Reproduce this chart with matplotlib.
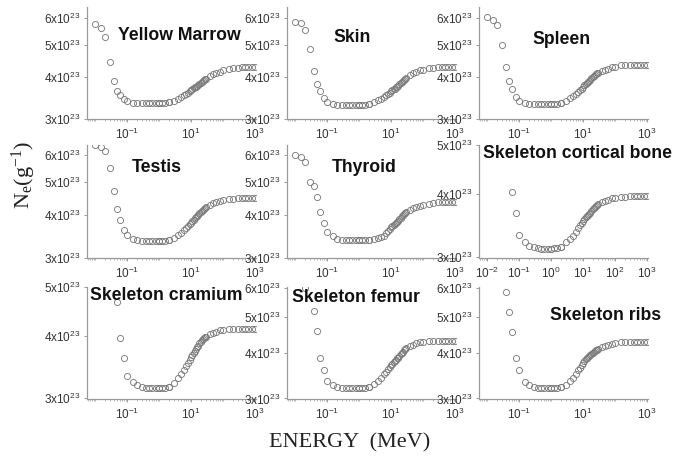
import numpy as np
import matplotlib
matplotlib.use("Agg")
import matplotlib.pyplot as plt
from matplotlib.ticker import FixedLocator, FuncFormatter, NullLocator, NullFormatter

plt.rcParams["font.family"] = "Liberation Sans"
plt.rcParams["mathtext.default"] = "regular"

nan = np.nan

# photon energy grid (MeV)
energy = [0.01, 0.015, 0.02, 0.03, 0.04, 0.05, 0.06, 0.08,
          0.1, 0.15, 0.2, 0.3, 0.4, 0.5, 0.6, 0.8,
          1, 1.022, 1.25, 1.5, 2, 2.044,
          3, 4, 5, 6, 7, 8, 9,
          10, 11, 12, 13, 14, 15, 16,
          18, 20, 22, 24, 26, 28, 30,
          40, 50, 60, 80,
          100, 150, 200, 300, 400, 500, 600, 800,
          1000]

# electron density, units of 1e23 electrons per gram
yellow_marrow = [5.77, 5.62, 5.26, 4.44, 3.88, 3.64, 3.53, 3.44,
                 3.38, 3.35, 3.34, 3.34, 3.34, 3.34, 3.34, 3.34,
                 3.34, 3.34, 3.35, 3.35, 3.36, 3.36,
                 3.39, 3.43, 3.48, 3.52, 3.56, 3.59, 3.62,
                 3.65, 3.67, 3.70, 3.72, 3.74, 3.76, 3.77,
                 3.81, 3.84, 3.87, 3.89, 3.92, 3.94, 3.95,
                 4.03, 4.07, 4.11, 4.15,
                 4.18, 4.22, 4.24, 4.26, 4.27, 4.27, 4.27, 4.27,
                 4.27]

skin = [5.86, 5.80, 5.54, 4.85, 4.17, 3.82, 3.62, 3.45,
        3.37, 3.31, 3.30, 3.30, 3.30, 3.30, 3.30, 3.30,
        3.30, 3.30, 3.30, 3.30, 3.31, 3.31,
        3.36, 3.40, 3.44, 3.48, 3.52, 3.55, 3.59,
        3.62, 3.65, 3.67, 3.69, 3.72, 3.74, 3.76,
        3.80, 3.84, 3.87, 3.90, 3.92, 3.95, 3.97,
        4.05, 4.10, 4.13, 4.18,
        4.20, 4.24, 4.26, 4.27, 4.27, 4.27, 4.27, 4.27,
        4.27]

spleen = [6.05, 5.93, 5.73, 4.99, 4.27, 3.88, 3.67, 3.49,
          3.38, 3.34, 3.31, 3.31, 3.31, 3.31, 3.31, 3.31,
          3.31, 3.31, 3.31, 3.32, 3.33, 3.33,
          3.39, 3.45, 3.50, 3.56, 3.61, 3.65, 3.69,
          3.73, 3.77, 3.80, 3.83, 3.86, 3.89, 3.91,
          3.96, 4.00, 4.03, 4.06, 4.08, 4.10, 4.12,
          4.17, 4.20, 4.23, 4.27,
          4.29, 4.33, 4.34, 4.34, 4.34, 4.34, 4.34, 4.34,
          4.34]

testis = [6.42, 6.35, 6.18, 5.48, 4.69, 4.17, 3.87, 3.62,
          3.50, 3.40, 3.37, 3.36, 3.36, 3.36, 3.36, 3.36,
          3.36, 3.36, 3.36, 3.36, 3.37, 3.37,
          3.42, 3.49, 3.55, 3.61, 3.66, 3.71, 3.76,
          3.80, 3.84, 3.87, 3.91, 3.94, 3.97, 4.00,
          4.05, 4.08, 4.11, 4.14, 4.17, 4.19, 4.21,
          4.28, 4.33, 4.36, 4.40,
          4.43, 4.46, 4.47, 4.48, 4.48, 4.48, 4.48, 4.48,
          4.48]

thyroid = [6.00, 5.93, 5.74, 5.01, 4.85, 4.53, 4.09, 3.80,
           3.56, 3.46, 3.40, 3.37, 3.37, 3.37, 3.37, 3.37,
           3.37, 3.37, 3.37, 3.37, 3.38, 3.38,
           3.40, 3.43, 3.45, 3.48, 3.53, 3.58, 3.64,
           3.68, 3.71, 3.74, 3.77, 3.79, 3.82, 3.84,
           3.89, 3.93, 3.96, 4.00, 4.02, 4.05, 4.07,
           4.14, 4.19, 4.22, 4.26,
           4.29, 4.32, 4.34, 4.36, 4.37, 4.37, 4.37, 4.37,
           4.37]

cortical_bone = [nan, nan, nan, nan, nan, nan, 4.03, 3.67,
                 3.32, 3.22, 3.16, 3.14, 3.13, 3.12, 3.12, 3.12,
                 3.12, 3.12, 3.13, 3.13, 3.15, 3.15,
                 3.21, 3.26, 3.31, 3.36, 3.43, 3.47, 3.51,
                 3.54, 3.57, 3.60, 3.62, 3.64, 3.66, 3.67,
                 3.70, 3.73, 3.75, 3.77, 3.79, 3.81, 3.83,
                 3.86, 3.88, 3.90, 3.92,
                 3.93, 3.95, 3.95, 3.96, 3.96, 3.96, 3.96, 3.96,
                 3.96]

cranium = [nan, nan, nan, nan, nan, 4.66, 3.96, 3.61,
           3.32, 3.23, 3.19, 3.16, 3.15, 3.15, 3.15, 3.15,
           3.15, 3.15, 3.15, 3.15, 3.16, 3.16,
           3.22, 3.29, 3.35, 3.42, 3.48, 3.53, 3.58,
           3.62, 3.66, 3.70, 3.73, 3.76, 3.79, 3.81,
           3.86, 3.89, 3.92, 3.94, 3.96, 3.97, 3.98,
           4.03, 4.05, 4.07, 4.10,
           4.11, 4.13, 4.13, 4.13, 4.13, 4.13, 4.13, 4.13,
           4.13]

femur = [nan, nan, 6.00, nan, 5.21, 4.59, 3.88, 3.59,
         3.35, 3.26, 3.23, 3.21, 3.21, 3.21, 3.21, 3.21,
         3.21, 3.21, 3.21, 3.21, 3.22, 3.22,
         3.28, 3.35, 3.42, 3.49, 3.55, 3.60, 3.65,
         3.70, 3.73, 3.77, 3.80, 3.83, 3.86, 3.88,
         3.93, 3.97, 4.00, 4.03, 4.06, 4.09, 4.11,
         4.17, 4.21, 4.24, 4.27,
         4.28, 4.30, 4.31, 4.31, 4.31, 4.31, 4.31, 4.31,
         4.31]

ribs = [nan, nan, nan, nan, 5.85, 5.18, 4.57, 3.88,
        3.59, 3.32, 3.26, 3.22, 3.20, 3.20, 3.20, 3.20,
        3.20, 3.20, 3.20, 3.20, 3.22, 3.22,
        3.26, 3.34, 3.42, 3.50, 3.58, 3.64, 3.70,
        3.75, 3.80, 3.84, 3.87, 3.90, 3.92, 3.94,
        3.98, 4.00, 4.03, 4.05, 4.07, 4.08, 4.09,
        4.14, 4.17, 4.19, 4.23,
        4.25, 4.28, 4.29, 4.29, 4.29, 4.29, 4.29, 4.29,
        4.29]

titles = ["Yellow Marrow", "Skin", "Spleen",
          "Testis", "Thyroid", "Skeleton cortical bone",
          "Skeleton cramium", "Skeleton femur", "Skeleton ribs"]
series = [yellow_marrow, skin, spleen,
          testis, thyroid, cortical_bone,
          cranium, femur, ribs]
y_tops = [6.48, 6.48, 6.48,
          6.42, 6.42, 5.0,
          5.0, 6.05, 6.05]

# layout in pixels
W, H = 676, 457
col_left = [87, 287, 479]
row_span = [(7, 119), (145, 258), (287, 399)]
ax_w = 169
title_pos = [(118, 35), (333, 38), (532, 39),
             (132, 167), (332, 168), (483, 153),
             (90, 295), (292, 297), (550, 315)]

axis_grey = "#9a9a9a"
mark_grey = "#7c7c7c"

fig = plt.figure(figsize=(W / 100, H / 100), dpi=100)

minor_x = [m * 10.0 ** k for k in range(-3, 4) for m in range(1, 10)]

for i in range(9):
    r, c = divmod(i, 3)
    top, bot = row_span[r]
    ax = fig.add_axes([col_left[c] / W, 1 - bot / H, ax_w / W, (bot - top) / H])
    ax.plot(energy, np.array(series[i]) * 1e23, "o", mfc="none", mec=mark_grey,
            ms=4.4, mew=0.65)
    ax.set_xscale("log")
    ax.set_yscale("log")
    ax.set_xlim(10 ** -2.25, 10 ** 3.03)
    ax.set_ylim(2.99e23, y_tops[i] * 1e23)

    ax.yaxis.set_major_locator(FixedLocator([3e23, 4e23, 5e23, 6e23]))
    ax.yaxis.set_major_formatter(FuncFormatter(lambda v, p: r"$%dx10^{23}$" % round(v / 1e23)))
    ax.yaxis.set_minor_locator(NullLocator())

    if titles[i] == "Skeleton cortical bone":
        ax.xaxis.set_major_locator(FixedLocator([1e-2, 1e-1, 1e0, 1e1, 1e2, 1e3]))
    else:
        ax.xaxis.set_major_locator(FixedLocator([1e-1, 1e1, 1e3]))
    ax.xaxis.set_major_formatter(FuncFormatter(lambda v, p: r"$10^{%d}$" % round(np.log10(v))))
    ax.xaxis.set_minor_locator(FixedLocator(minor_x))
    ax.xaxis.set_minor_formatter(NullFormatter())

    for side in ["top", "right"]:
        ax.spines[side].set_visible(False)
    for side in ["left", "bottom"]:
        ax.spines[side].set_color(axis_grey)
        ax.spines[side].set_linewidth(0.9)
    ax.tick_params(which="major", length=2.5, width=0.7, color=axis_grey,
                   labelsize=8.5, labelcolor="#333333", pad=2)
    ax.tick_params(axis="x", which="major", pad=3)
    ax.tick_params(which="minor", length=1.5, width=0.5, color=axis_grey)
    ax.patch.set_alpha(0)

    tx, ty = title_pos[i]
    fig.text(tx / W, 1 - ty / H, titles[i], ha="left", va="center",
             fontsize=12.7, fontweight="bold", color="#111111")

fig.text(24 / W, 1 - 175 / H, r"$N_e(g^{-1})$", rotation=90, ha="center", va="center",
         fontsize=16, family="Liberation Serif", color="#222222")
fig.text(350 / W, 1 - 443 / H, "ENERGY  (MeV)", ha="center", va="center",
         fontsize=16, family="Liberation Serif", color="#222222")

fig.savefig("out.png", dpi=100)
